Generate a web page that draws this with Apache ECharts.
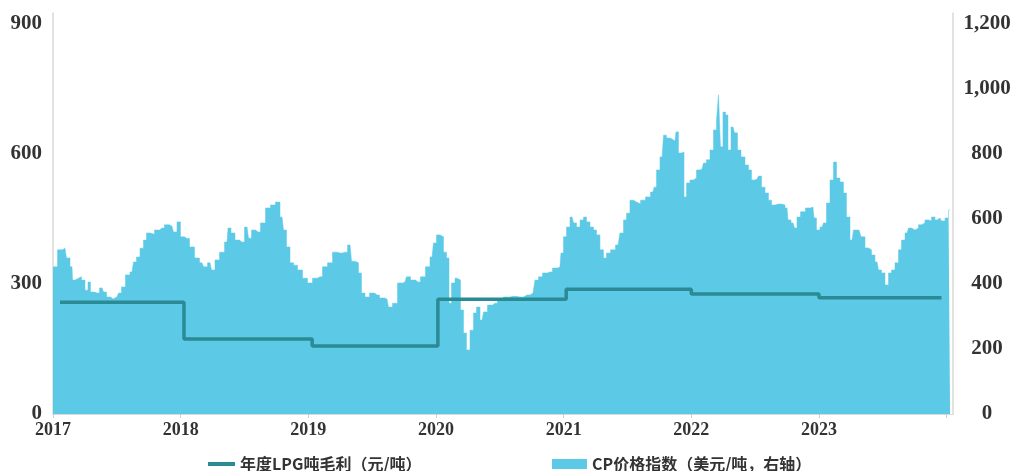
<!DOCTYPE html>
<html>
<head>
<meta charset="utf-8">
<script src="https://cdn.jsdelivr.net/npm/echarts@6/dist/echarts.min.js"></script>
<style>
html,body{margin:0;padding:0;background:#fff;}
#chart{width:1014px;height:471px;}
</style>
</head>
<body>
<div id="chart"></div>
<script>
// Year tick labels
var yearLabels = ['2017','2018','2019','2020','2021','2022','2023'];

// Annual LPG gross margin per tonne (left axis, yuan/t) - step points (decimal year)
var marginX = [2017.055, 2018.026, 2019.030, 2020.015, 2021.020, 2022.000, 2023.000, 2023.960];
var marginVal = [258, 173, 157, 265, 288, 277, 268, 268];

// CP price index (right axis, USD/t) - decimal year positions and values
var cpX = [
2017.000,2017.016,2017.055,2017.094,2017.117,2017.149,2017.157,2017.188,2017.211,2017.235,
2017.266,2017.282,2017.305,2017.345,2017.384,2017.407,2017.431,2017.470,2017.501,2017.525,
2017.548,2017.587,2017.619,2017.642,2017.666,2017.697,2017.721,2017.744,2017.775,2017.815,
2017.854,2017.893,2017.932,2017.956,2017.987,2018.010,2018.050,2018.089,2018.128,2018.167,
2018.191,2018.230,2018.253,2018.285,2018.324,2018.363,2018.379,2018.410,2018.441,2018.480,
2018.520,2018.543,2018.567,2018.606,2018.645,2018.684,2018.723,2018.762,2018.794,2018.817,
2018.841,2018.872,2018.896,2018.935,2018.974,2019.013,2019.052,2019.091,2019.131,2019.170,
2019.209,2019.248,2019.287,2019.327,2019.350,2019.381,2019.405,2019.428,2019.460,2019.499,
2019.538,2019.577,2019.616,2019.640,2019.679,2019.718,2019.757,2019.781,2019.820,2019.859,
2019.898,2019.937,2019.969,2019.992,2020.016,2020.047,2020.071,2020.094,2020.110,2020.133,
2020.165,2020.180,2020.204,2020.227,2020.251,2020.282,2020.306,2020.329,2020.361,2020.384,
2020.423,2020.462,2020.501,2020.556,2020.603,2020.658,2020.713,2020.760,2020.791,2020.815,
2020.854,2020.893,2020.932,2020.971,2020.987,2021.011,2021.034,2021.066,2021.089,2021.113,
2021.144,2021.167,2021.191,2021.222,2021.246,2021.269,2021.300,2021.324,2021.348,2021.387,
2021.426,2021.457,2021.481,2021.504,2021.535,2021.559,2021.583,2021.622,2021.661,2021.700,
2021.716,2021.739,2021.771,2021.794,2021.817,2021.849,2021.872,2021.888,2021.911,2021.935,
2021.951,2021.974,2022.005,2022.029,2022.052,2022.084,2022.107,2022.131,2022.162,2022.186,
2022.209,2022.217,2022.240,2022.256,2022.280,2022.295,2022.327,2022.350,2022.374,2022.405,
2022.436,2022.460,2022.483,2022.515,2022.538,2022.562,2022.593,2022.616,2022.640,2022.671,
2022.695,2022.718,2022.750,2022.765,2022.797,2022.820,2022.836,2022.875,2022.914,2022.953,
2022.969,2022.992,2023.024,2023.047,2023.071,2023.102,2023.126,2023.149,2023.180,2023.204,
2023.227,2023.259,2023.282,2023.314,2023.345,2023.376,2023.400,2023.423,2023.455,2023.478,
2023.502,2023.533,2023.557,2023.580,2023.611,2023.635,2023.658,2023.690,2023.713,2023.737,
2023.768,2023.791,2023.815,2023.846,2023.870,2023.893,2023.925,2023.948,2023.972,2024.003,
2024.027
];
var cpVal = [
452,453,505,510,480,453,412,418,422,412,
381,406,375,372,388,375,360,354,360,372,
391,428,437,468,483,510,535,557,553,566,
572,582,578,560,591,545,540,514,480,465,
453,465,443,474,498,529,572,557,535,529,
575,541,566,560,588,634,643,652,606,566,
514,465,458,443,418,403,418,422,453,465,
498,495,498,520,470,465,434,372,360,372,
366,357,354,329,341,403,406,422,412,406,
422,453,483,526,551,545,498,480,341,403,
418,412,320,249,197,258,311,329,289,314,
335,341,350,360,362,360,366,372,412,422,
434,437,449,452,495,545,575,606,588,575,
597,606,591,575,566,551,505,480,495,505,
520,557,597,618,658,652,646,658,668,683,
698,751,791,858,849,846,840,868,803,806,
668,711,720,726,751,754,772,782,812,874,
905,982,822,929,920,812,883,865,812,791,
766,751,720,723,732,698,680,658,643,646,
646,643,634,597,588,572,606,622,634,637,
603,566,575,588,649,720,775,726,714,680,
606,535,566,566,545,511,505,489,468,443,
434,397,434,443,465,505,535,557,572,566,
572,582,588,597,594,606,597,603,594,603,
628
];

var cpData = cpX.map(function(x, i){ return [x, cpVal[i]]; });
var marginData = marginX.map(function(x, i){ return [x, marginVal[i]]; });

var nameLine = '年度LPG吨毛利（元/吨）';
var nameArea = 'CP价格指数（美元/吨，右轴）';

var numFont = {fontFamily:'"Liberation Serif","Times New Roman",serif', fontWeight:'bold', color:'#333'};
var legFont = {fontFamily:'"Noto Sans CJK SC",sans-serif', fontWeight:'bold', fontSize:16, color:'#333'};

var chart = echarts.init(document.getElementById('chart'), null, {renderer:'canvas'});
chart.setOption({
  animation:false,
  backgroundColor:'#ffffff',
  grid:{left:53, right:61, top:13, bottom:57, containLabel:false},
  legend:[
    {left:203, top:451, itemWidth:27, itemHeight:4, icon:'rect', itemGap:10, data:[nameLine], textStyle:legFont},
    {left:547, top:451, itemWidth:35, itemHeight:10, icon:'rect', data:[nameArea], textStyle:legFont}
  ],
  xAxis:{
    type:'value', min:2017, max:2024.05, interval:1,
    axisLine:{show:true, lineStyle:{color:'#d9d9d9', width:1}},
    axisTick:{show:true, length:4, lineStyle:{color:'#cfcfcf'}},
    splitLine:{show:false},
    axisLabel:Object.assign({fontSize:18, margin:7, showMaxLabel:false,
      formatter:function(v){ var s = String(Math.round(v)); return yearLabels.indexOf(s) >= 0 && Math.abs(v-Math.round(v))<1e-6 ? s : ''; }}, numFont)
  },
  yAxis:[
    {type:'value', min:0, max:925.4, interval:300, position:'left',
     axisLine:{show:true, lineStyle:{color:'#d9d9d9', width:1.5}},
     axisTick:{show:false}, splitLine:{show:false},
     axisLabel:Object.assign({fontSize:21, margin:11, showMaxLabel:false}, numFont)},
    {type:'value', min:0, max:1233.8, interval:200, position:'right',
     axisLine:{show:true, lineStyle:{color:'#d9d9d9', width:1.5}},
     axisTick:{show:false}, splitLine:{show:false},
     axisLabel:Object.assign({fontSize:21, margin:34, align:'center', showMaxLabel:false,
       formatter:function(v){ return v.toLocaleString('en-US'); }}, numFont)}
  ],
  series:[
    {name:nameArea, type:'line', yAxisIndex:1, data:cpData, step:'middle', showSymbol:false, symbol:'none',
     lineStyle:{width:0.5, color:'#5ccae6'}, itemStyle:{color:'#5ccae6'},
     areaStyle:{color:'#5ccae6', opacity:1}, z:1},
    {name:nameLine, type:'line', yAxisIndex:0, data:marginData, step:'end', showSymbol:false, symbol:'none',
     lineStyle:{width:3.5, color:'#2b8a93'}, itemStyle:{color:'#2b8a93'}, z:3}
  ]
});
</script>
</body>
</html>
